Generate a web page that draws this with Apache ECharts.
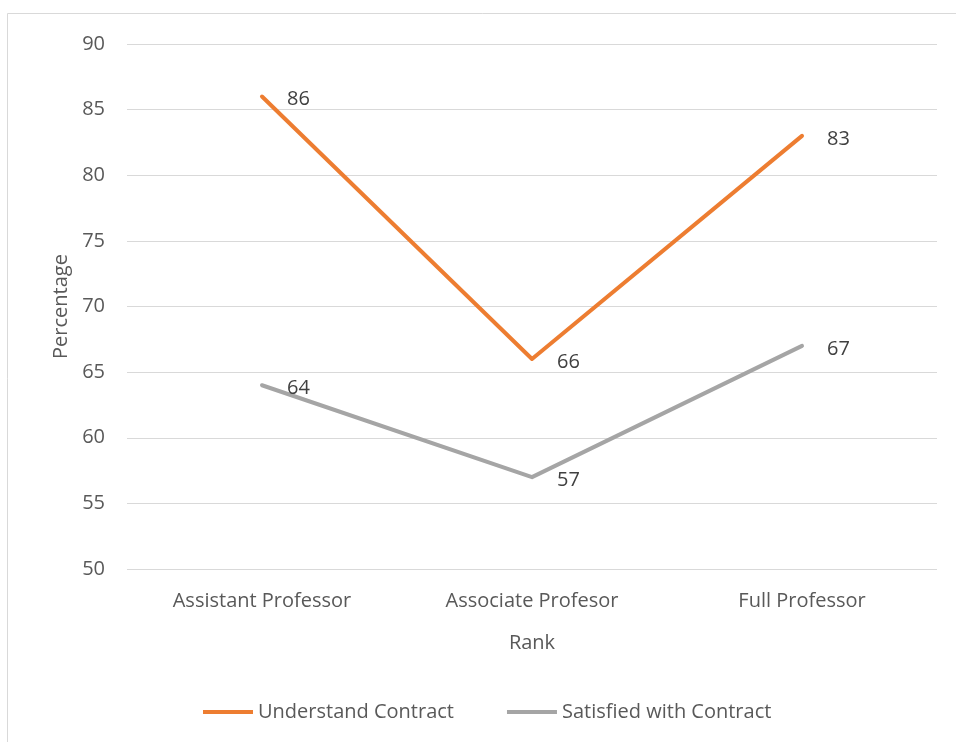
<!DOCTYPE html>
<html>
<head>
<meta charset="utf-8">
<script src="https://cdn.jsdelivr.net/npm/echarts@6/dist/echarts.min.js"></script>
<style>
  html, body { margin: 0; padding: 0; background: #fff; }
  #chart { width: 956px; height: 742px; }
</style>
</head>
<body>
<div id="chart"></div>
<script>
// Survey results by faculty rank
const ranks = ['Assistant Professor', 'Associate Profesor', 'Full Professor'];
const understandContract = [86, 66, 83];
const satisfiedWithContract = [64, 57, 67];
const seriesNames = ['Understand Contract', 'Satisfied with Contract'];

const FONT = '"Open Sans", "Noto Sans", sans-serif';
const FS = 20;
const chart = echarts.init(document.getElementById('chart'));

const labelStyle = {
  show: true,
  position: 'right',
  distance: 25,
  color: '#404040',
  fontSize: FS,
  fontFamily: FONT,
  offset: [0, 3]
};

chart.setOption({
  animation: false,
  backgroundColor: '#ffffff',
  graphic: [{
    type: 'rect',
    shape: { x: 7.5, y: 13.5, width: 960, height: 740 },
    style: { fill: 'none', stroke: '#d9d9d9', lineWidth: 1 },
    silent: true
  }],
  grid: { left: 127, right: 19, top: 44, bottom: 173 },
  legend: {
    top: 697,
    left: 198,
    itemWidth: 50,
    itemHeight: 4,
    itemGap: 53,
    icon: 'rect',
    textStyle: { color: '#595959', fontSize: FS, fontFamily: FONT },
    data: seriesNames
  },
  xAxis: {
    type: 'category',
    data: ranks,
    boundaryGap: true,
    name: 'Rank',
    nameLocation: 'middle',
    nameGap: 64,
    nameTextStyle: { color: '#595959', fontSize: FS, fontFamily: FONT },
    axisLine: { show: false },
    axisTick: { show: false },
    axisLabel: { color: '#595959', fontSize: FS, fontFamily: FONT, margin: 22 }
  },
  yAxis: {
    type: 'value',
    min: 50,
    max: 90,
    interval: 5,
    name: 'Percentage',
    nameLocation: 'middle',
    nameGap: 56,
    nameRotate: 90,
    nameTextStyle: { color: '#595959', fontSize: FS, fontFamily: FONT },
    axisLine: { show: false },
    axisTick: { show: false },
    axisLabel: { color: '#595959', fontSize: FS, fontFamily: FONT, margin: 22 },
    splitLine: { lineStyle: { color: '#d9d9d9', width: 1 } }
  },
  series: [
    {
      name: seriesNames[0],
      type: 'line',
      data: understandContract,
      symbol: 'circle',
      symbolSize: 0,
      lineStyle: { color: '#ED7D31', width: 4, cap: 'round', join: 'round' },
      itemStyle: { color: '#ED7D31' },
      label: labelStyle
    },
    {
      name: seriesNames[1],
      type: 'line',
      data: satisfiedWithContract,
      symbol: 'circle',
      symbolSize: 0,
      lineStyle: { color: '#A5A5A5', width: 4, cap: 'round', join: 'round' },
      itemStyle: { color: '#A5A5A5' },
      label: labelStyle
    }
  ]
});
</script>
</body>
</html>
